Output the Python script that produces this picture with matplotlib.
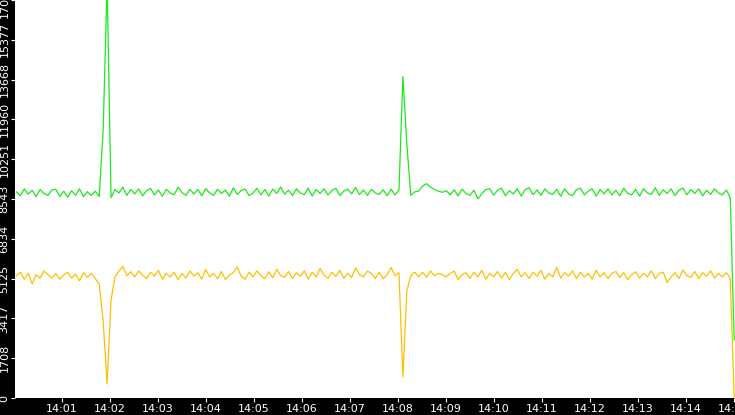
import numpy as np
import matplotlib.pyplot as plt

# values sampled roughly every 5 s from the picture
green = [8850, 8680, 8980, 8750, 8920, 8650, 8950, 8780, 8700, 8930,
         8960, 8650, 8880, 8620, 8900, 8700, 8980, 8640, 8860, 8700,
         8880, 8650, 11500, 17800, 8600, 8950, 8800, 9050, 8700, 8950,
         8760, 8980, 8680, 8900, 9000, 8720, 8930, 8660, 8960, 8800,
         8720, 9050, 8820, 8700, 8960, 8760, 8950, 8680, 8990, 8800,
         8700, 8960, 8780, 8930, 8660, 9020, 8740, 8910, 8970, 8690,
         8800, 9000, 8720, 8950, 8670, 8970, 8780, 9060, 8750, 8920,
         8690, 8980, 8800, 8730, 9010, 8670, 8950, 8780, 8980, 8720,
         8910, 9000, 8690, 8880, 8970, 8760, 9040, 8730, 8930, 8700,
         8960, 8800, 8740, 8940, 8680, 8970, 8720, 8930,
         13800, 10900, 8700, 8850,
         8880, 9100, 9200, 9050, 8950, 8880, 8830, 8900,
         8720, 8940, 8670, 8970, 8780, 8700, 8920, 8550, 8760, 8950,
         8980, 8710, 8920, 9010, 8680, 8900, 8760, 8980, 8670, 8950,
         9030, 8730, 8930, 8700, 8980, 8800, 8740, 8960, 8660, 8980,
         8760, 8690, 8940, 9010, 8720, 8880, 8980, 8670, 8950, 8760,
         8980, 8720, 8920, 8680, 9010, 8780, 8720, 8950, 8670, 8980,
         8800, 8740, 9030, 8700, 8940, 8780, 8980, 8690, 8920, 9010,
         8720, 8950, 8780, 8980, 8680, 8920, 8740, 8980, 8800, 8720,
         8930, 8600, 2500]

yellow = [5250, 5400, 5100, 5350, 4900, 5300, 5150, 5450, 5300, 5150,
          5350, 5100, 5280, 5400, 5150, 5320, 5030, 5380, 5180, 5350,
          5120, 4900, 3300, 600, 4200, 5200, 5450, 5650, 5250, 5420,
          5200, 5450, 5280, 5120, 5400, 5230, 5480, 5100, 5350, 5200,
          5400, 5080, 5350, 5150, 5460, 5230, 5380, 5100, 5520, 5200,
          5350, 5120, 5430, 5080, 5280, 5380, 5620, 5230, 5100, 5400,
          5200, 5460, 5250, 5120, 5420, 5160, 5520, 5260, 5180, 5430,
          5130, 5380, 5230, 5460, 5100, 5400, 5200, 5560, 5280, 5140,
          5400, 5220, 5480, 5130, 5350, 5180, 5580, 5300, 5200, 5450,
          5350, 5130, 5400, 5120, 5300, 5600, 5250, 5380,
          900, 4600, 5250, 5400,
          5200, 5400, 5180, 5450, 5250, 5350, 5300, 5200,
          5350, 5450, 5080, 5300, 5380, 5130, 5400, 5200, 5480, 5100,
          5350, 5200, 5430, 5150, 5400, 5080, 5350, 5520, 5200, 5380,
          5130, 5400, 5230, 5480, 5100, 5350, 5200, 5600, 5150, 5380,
          5230, 5460, 5130, 5400, 5200, 5350, 5100, 5480, 5200, 5380,
          5130, 5350, 5430, 5180, 5380, 5080, 5300, 5420, 5150, 5350,
          5200, 5460, 5120, 5350, 5400, 4950, 5200, 5380, 5130, 5500,
          5250, 5180, 5430, 5130, 5380, 5230, 5460, 5150, 5350, 5200,
          5380, 5150, 0]

y_ticks = [0, 1708, 3417, 5125, 6834, 8543, 10251, 11960, 13668, 15377, 17086]
x_labels = ['14:%02d' % m for m in range(1, 16)]

# seconds after 14:00:00
n = len(green)
t = 900 - 4.93 * (n - 1 - np.arange(n))

fig = plt.figure(figsize=(7.35, 4.15), dpi=100, facecolor='black')
ax = fig.add_axes([15 / 735, 17 / 415, 720 / 735, 398 / 415])
ax.set_facecolor('white')
ax.plot(t, green, color='#1ee81e', lw=0.9)
ax.plot(t, yellow, color='#ffbf00', lw=0.9)

ax.set_xlim(1, 901)
ax.set_ylim(0, 17086)
ax.set_xticks(np.arange(60, 901, 60))
ax.set_xticklabels(x_labels)
ax.set_yticks(y_ticks)
ax.set_yticklabels([str(v) for v in y_ticks], rotation=90, va='center')
ax.tick_params(colors='white', labelsize=8, length=3, pad=1)
for s in ax.spines.values():
    s.set_visible(False)

fig.savefig('out.png', dpi=100, facecolor='black')
